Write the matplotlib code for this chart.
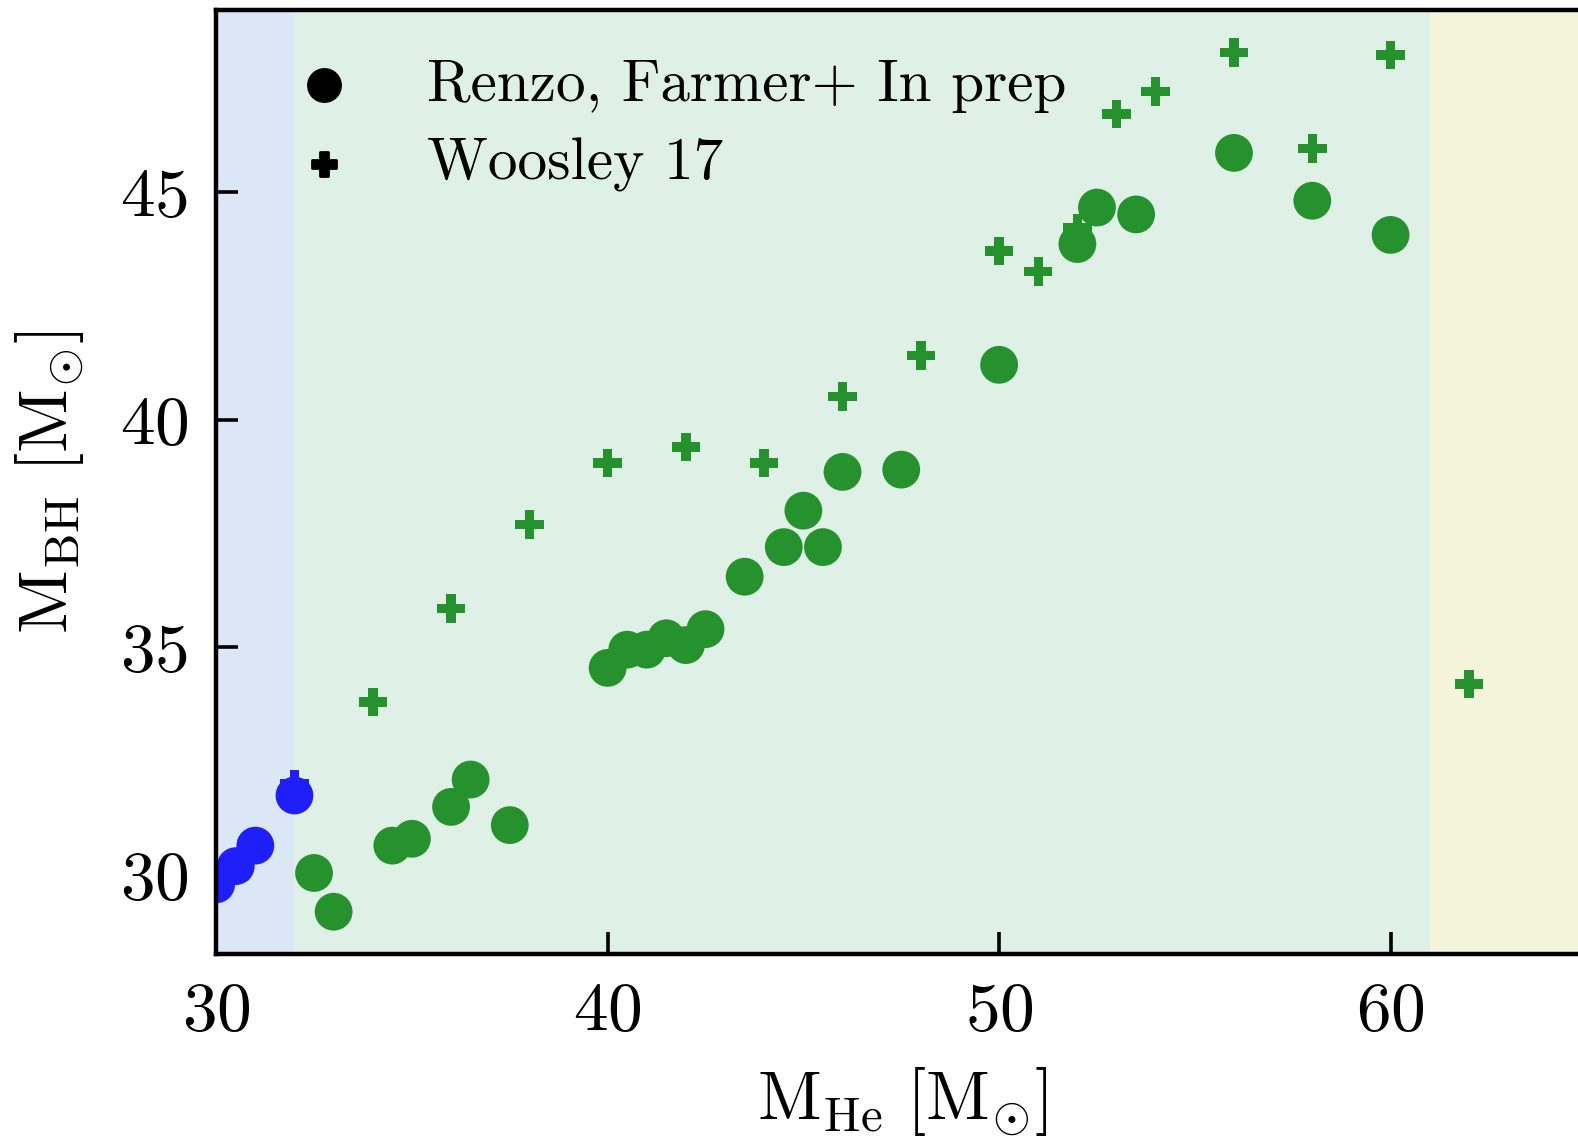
import numpy as np
import matplotlib
matplotlib.use("Agg")
from matplotlib import pyplot as plt

plt.rcParams['font.family'] = 'serif'
plt.rcParams['font.serif'] = ['cmr10']
plt.rcParams['mathtext.fontset'] = 'cm'
plt.rcParams['axes.formatter.use_mathtext'] = True

# Renzo, Farmer+ in prep (circles)
renzo_mhe = [30.0, 30.5, 31.0, 32.0, 32.5, 33.0, 34.5, 35.0, 36.0, 36.5, 37.5,
             40.0, 40.5, 41.0, 41.5, 42.0, 42.5, 43.5, 44.5, 45.0, 45.5, 46.0,
             47.5, 50.0, 52.0, 52.5, 53.5, 56.0, 58.0, 60.0]
renzo_mbh = [29.8, 30.2, 30.65, 31.75, 30.05, 29.2, 30.65, 30.8, 31.5, 32.1, 31.1,
             34.55, 34.95, 34.95, 35.2, 35.05, 35.4, 36.55, 37.2, 38.0, 37.2, 38.85,
             38.9, 41.2, 43.85, 44.65, 44.5, 45.85, 44.8, 44.05]

# Woosley 17 (crosses)
woosley_mhe = [32.0, 34.0, 36.0, 38.0, 40.0, 42.0, 44.0, 46.0, 48.0, 50.0,
               51.0, 52.0, 53.0, 54.0, 56.0, 58.0, 60.0, 62.0]
woosley_mbh = [32.0, 33.8, 35.85, 37.7, 39.05, 39.4, 39.05, 40.5, 41.4, 43.7,
               43.25, 44.2, 46.7, 47.2, 48.05, 45.95, 48.0, 34.2]

# background regions
band_edges = [30.0, 32.0, 61.0, 66.0]
band_colors = ['#dbe7f5', '#dff0e6', '#f4f4db']

green = '#25922d'
blue = '#1f1ffa'


def point_colors(xs):
    return [blue if x <= 32.0 else green for x in xs]


fig = plt.figure(figsize=(7.89, 5.69), dpi=200)
ax = fig.add_axes([0.137, 0.162, 0.8695, 0.829])

for i in range(len(band_colors)):
    ax.axvspan(band_edges[i], band_edges[i + 1], color=band_colors[i], lw=0, zorder=0)

ax.scatter(woosley_mhe, woosley_mbh, marker='P', s=105, c=point_colors(woosley_mhe),
           edgecolors='none', zorder=3)
ax.scatter(renzo_mhe, renzo_mbh, marker='o', s=185, c=point_colors(renzo_mhe),
           edgecolors='none', zorder=2)

# legend handles in black
ax.scatter([], [], marker='o', s=185, c='black', label='Renzo, Farmer+ In prep')
ax.scatter([], [], marker='P', s=105, c='black', label='Woosley 17')
ax.legend(loc='upper left', frameon=False, fontsize=21.3, handletextpad=0.75,
          labelspacing=0.42, borderaxespad=0.3, markerscale=0.85,
          bbox_to_anchor=(0.005, 0.992))

ax.set_xlim(30, 65.05)
ax.set_ylim(28.28, 48.98)
ax.set_xticks([30, 40, 50, 60])
ax.set_yticks([30, 35, 40, 45])

ax.tick_params(direction='in', length=8, width=1.3, labelsize=25, pad=10)
for s in ax.spines.values():
    s.set_linewidth(1.6)

ax.set_xlabel(r'$\rm M_{He}\ [M_{\odot}]$', fontsize=25, labelpad=8)
ax.set_ylabel(r'$\rm M_{BH}\ [M_{\odot}]$', fontsize=25, labelpad=12)

fig.savefig('out.png', dpi=200)
